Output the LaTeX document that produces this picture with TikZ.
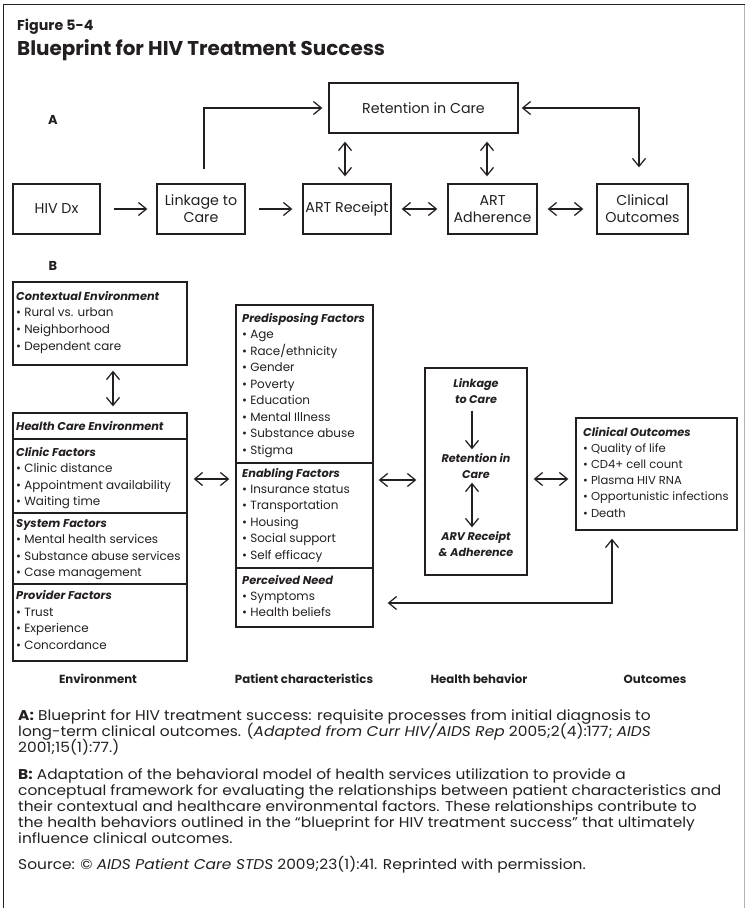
\documentclass[tikz,border=0pt]{standalone}
\usepackage{fontspec}
\setmainfont{Poppins}
\usetikzlibrary{arrows.meta}
\definecolor{ink}{HTML}{231F20}
\begin{document}
\begin{tikzpicture}[x=1bp,y=1bp,
  >={Straight Barb[length=8bp,width=13bp]},
  conn/.style={draw=ink, line width=1.25bp},
  abox/.style={draw=ink, line width=1.3bp, inner sep=0, align=center, text=ink,
     font=\fontsize{14.3}{17}\selectfont},
  bbox/.style={draw=ink, line width=1.3bp, inner sep=0},
  itm/.style={inner sep=0, anchor=base west, text=ink, font=\fontsize{12}{14}\selectfont},
  hdr/.style={itm, font=\fontsize{11.4}{14}\selectfont\bfseries\itshape},
  beh/.style={inner sep=0, align=center, text=ink, font=\fontsize{11.2}{16}\selectfont\bfseries\itshape},
  col/.style={inner sep=0, anchor=base, text=ink, font=\fontsize{11.8}{13}\selectfont\bfseries},
  captxt/.style={inner sep=0, anchor=base west, text=ink, font=\fontsize{14.2}{16}\selectfont,
     xscale=1.09, transform shape},
  dv/.style={draw=ink, line width=1.2bp}]
\useasboundingbox (0,0) rectangle (746,-908);
% frame
\draw[ink, line width=1.5bp] (3,-4.5) -- (745,-4.5);
\draw[ink, line width=1.3bp] (3.5,-4.5) -- (3.5,-908);
\draw[black!30, line width=1.2bp] (744.5,-4.5) -- (744.5,-908);
% titles
\node[inner sep=0, anchor=base west, text=ink, font=\fontsize{14.3}{16}\selectfont\bfseries] (fig) at (17,-30) {Figure 5-4};
\node[inner sep=0, anchor=base west, text=ink, font=\fontsize{20}{24}\selectfont\bfseries] (ttl) at (17,-55) {Blueprint for HIV Treatment Success};
\node[inner sep=0, anchor=base, text=ink, font=\fontsize{13}{14}\selectfont\bfseries] (lA) at (53,-124) {A};
\node[inner sep=0, anchor=base, text=ink, font=\fontsize{13}{14}\selectfont\bfseries] (lB) at (53,-270) {B};
% panel A
\node[abox, minimum width=189bp, minimum height=50bp] (ret) at (423.5,-108) {Retention in Care};
\node[abox, minimum width=87bp, minimum height=50bp] (hiv) at (56.5,-209) {HIV Dx};
\node[abox, minimum width=88bp, minimum height=50bp] (link) at (201,-209) {Linkage to\\Care};
\node[abox, minimum width=88bp, minimum height=50bp] (art) at (347,-209) {ART Receipt};
\node[abox, minimum width=89bp, minimum height=50bp] (adh) at (492.5,-209) {ART\\Adherence};
\node[abox, minimum width=91bp, minimum height=50bp] (clin) at (642.5,-209) {Clinical\\Outcomes};
\draw[conn,->,shorten <=13bp,shorten >=9bp] (hiv) -- (link);
\draw[conn,->,shorten <=13bp,shorten >=10bp] (link) -- (art);
\draw[conn,<->,shorten <=10bp,shorten >=10bp] (art) -- (adh);
\draw[conn,<->,shorten <=10bp,shorten >=13bp] (adh) -- (clin);
\coordinate (lk) at ([xshift=3bp,yshift=14bp]link.north);
\draw[conn,->,shorten >=6bp] (lk) |- (ret.west);
\coordinate (ck) at ([xshift=-3.5bp]clin.north);
\draw[conn,<->,shorten <=3bp,shorten >=16bp] (ret.east) -| (ck);
\coordinate (a1) at ([xshift=-2bp]art.north);
\coordinate (a2) at ([xshift=-5.5bp]adh.north);
\draw[conn,<->,shorten <=8bp,shorten >=7bp] (a1 |- ret.south) -- (a1);
\draw[conn,<->,shorten <=8bp,shorten >=7bp] (a2 |- ret.south) -- (a2);
% panel B: contextual
\node[bbox, minimum width=174bp, minimum height=83bp] (ctx) at (100,-323.5) {};
\node[hdr] (ctxh) at (16,-300) {Contextual Environment};
\foreach \t [count=\i] in {Rural vs. urban, Neighborhood, Dependent care}
  \node[itm] (ctx\i) at (16,{-300-\i*16.8}) {• \t};
% health care
\node[bbox, minimum width=174bp, minimum height=248bp] (hc) at (100,-537) {};
\draw[dv] (13,-439) -- (187,-439);
\draw[dv] (13,-513) -- (187,-513);
\draw[dv] (13,-584) -- (187,-584);
\node[hdr] (hch) at (16,-430.5) {Health Care Environment};
\node[hdr] (clh) at (16,-456) {Clinic Factors};
\foreach \t [count=\i] in {Clinic distance, Appointment availability, Waiting time}
  \node[itm] (cl\i) at (16,{-456-\i*16.5}) {• \t};
\node[hdr] (syh) at (16,-527) {System Factors};
\foreach \t [count=\i] in {Mental health services, Substance abuse services, Case management}
  \node[itm] (sy\i) at (16,{-527-\i*16.5}) {• \t};
\node[hdr] (prh) at (16,-599) {Provider Factors};
\foreach \t [count=\i] in {Trust, Experience, Concordance}
  \node[itm] (pr\i) at (16,{-599.5-\i*16.6}) {• \t};
\draw[conn,<->,shorten <=5bp,shorten >=6bp] ([xshift=13bp]ctx.south) -- ([xshift=13bp]hc.north);
% predisposing
\node[bbox, minimum width=137bp, minimum height=322bp] (pd) at (304.5,-466) {};
\draw[dv] (236,-463) -- (373,-463);
\draw[dv] (236,-568) -- (373,-568);
\node[hdr] (pdh) at (242,-322) {Predisposing Factors};
\foreach \t [count=\i] in {Age, Race/ethnicity, Gender, Poverty, Education, Mental Illness, Substance abuse, Stigma}
  \node[itm] (pd\i) at (242,{-322-\i*16.5}) {• \t};
\node[hdr] (enh) at (242,-477) {Enabling Factors};
\foreach \t [count=\i] in {Insurance status, Transportation, Housing, Social support, Self efficacy}
  \node[itm] (en\i) at (242,{-477-\i*16.4}) {• \t};
\node[hdr] (peh) at (242,-584) {Perceived Need};
\foreach \t [count=\i] in {Symptoms, Health beliefs}
  \node[itm] (pe\i) at (242,{-584-\i*16}) {• \t};
\draw[conn,<->,shorten <=6bp,shorten >=6bp] (hc.east |- 0,-479) -- (pd.west |- 0,-479);
% health behavior
\node[bbox, minimum width=102bp, minimum height=207bp] (hb) at (476,-471.5) {};
\node[beh] (hb1) at (476,-391) {Linkage\\to Care};
\node[beh] (hb2) at (476,-466) {Retention in\\Care};
\node[beh] (hb3) at (476,-544) {ARV Receipt\\\& Adherence};
\coordinate (h1) at ([xshift=-4bp]hb1.south);
\coordinate (h2) at ([xshift=-4bp]hb2.south);
\draw[conn,->,shorten <=7bp,shorten >=4bp] (h1) -- (h1 |- hb2.north);
\draw[conn,<->,shorten <=4bp,shorten >=4bp] (h2) -- (h2 |- hb3.north);
\draw[conn,<->,shorten <=5bp,shorten >=8bp] (pd.east |- 0,-480) -- (hb.west |- 0,-480);
% outcomes
\node[bbox, minimum width=161bp, minimum height=112bp] (oc) at (656.5,-474) {};
\node[hdr] (och) at (583,-436) {Clinical Outcomes};
\foreach \t [count=\i] in {Quality of life, CD4+ cell count, Plasma HIV RNA, Opportunistic infections, Death}
  \node[itm, font=\fontsize{11.6}{14}\selectfont] (oc\i) at (583,{-436-\i*16.2}) {• \t};
\draw[conn,<->,shorten <=6bp,shorten >=7bp] (hb.east |- 0,-479) -- (oc.west |- 0,-479);
\coordinate (fb) at ([xshift=-44.5bp]oc.south);
\draw[conn,<->,shorten <=8bp,shorten >=14bp] (fb) |- (pd.east |- 0,-603);
% column labels
\node[col] (c1) at (98,-683) {Environment};
\node[col] (c2) at (304,-683) {Patient characteristics};
\node[col] (c3) at (479,-683) {Health behavior};
\node[col] (c4) at (655,-683) {Outcomes};
% caption
\node[captxt] (t1) at (18,-720.5) {\textbf{A:} Blueprint for HIV treatment success: requisite processes from initial diagnosis to};
\node[captxt] (t2) at (18,-736.5) {long-term clinical outcomes. (\textit{Adapted from Curr HIV/AIDS Rep} 2005;2(4):177; \textit{AIDS}};
\node[captxt] (t3) at (18,-752.5) {2001;15(1):77.)};
\node[captxt] (t4) at (18,-779) {\textbf{B:} Adaptation of the behavioral model of health services utilization to provide a};
\node[captxt] (t5) at (18,-795) {conceptual framework for evaluating the relationships between patient characteristics and};
\node[captxt] (t6) at (18,-811) {their contextual and healthcare environmental factors. These relationships contribute to};
\node[captxt] (t7) at (18,-827) {the health behaviors outlined in the “blueprint for HIV treatment success” that ultimately};
\node[captxt] (t8) at (18,-843) {influence clinical outcomes.};
\node[captxt] (t9) at (18,-869) {Source: © \textit{AIDS Patient Care STDS} 2009;23(1):41. Reprinted with permission.};
\end{tikzpicture}
\end{document}
